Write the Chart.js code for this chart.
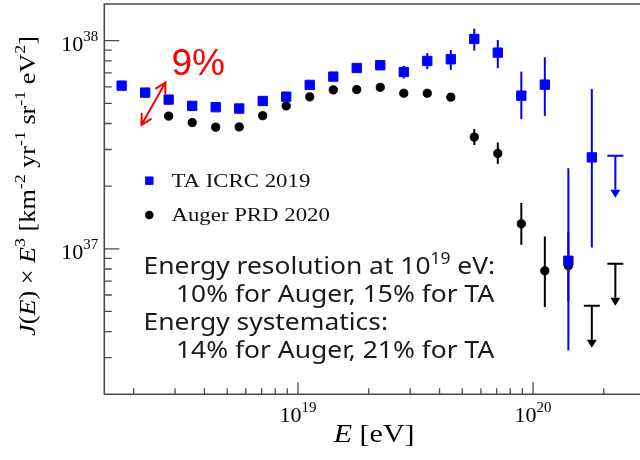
<!DOCTYPE html>
<html>
<head>
<meta charset="utf-8">
<script src="https://cdn.jsdelivr.net/npm/chart.js@4/dist/chart.umd.min.js"></script>
<style>
  html, body { margin: 0; padding: 0; background: #ffffff; }
  canvas { display: block; }
</style>
</head>
<body>
<canvas id="spectrum" width="640" height="460"></canvas>
<script>
// ---- Telescope Array (ICRC 2019): bin energies [eV] and J(E)·E^3 [km^-2 yr^-1 sr^-1 eV^2]
const taEnergy = [1.778e18, 2.239e18, 2.818e18, 3.548e18, 4.467e18, 5.623e18, 7.079e18,
                  8.913e18, 1.122e19, 1.413e19, 1.778e19, 2.239e19, 2.818e19, 3.548e19,
                  4.467e19, 5.623e19, 7.079e19, 8.913e19, 1.122e20, 1.413e20, 1.778e20];
const taFlux   = [6.08e37, 5.63e37, 5.21e37, 4.86e37, 4.79e37, 4.72e37, 5.13e37,
                  5.38e37, 6.13e37, 6.72e37, 7.39e37, 7.62e37, 7.07e37, 7.99e37,
                  8.14e37, 1.019e38, 8.76e37, 5.44e37, 6.15e37, 8.76e36, 2.75e37];
const taLow    = [6.02e37, 5.58e37, 5.16e37, 4.81e37, 4.74e37, 4.66e37, 5.06e37,
                  5.30e37, 6.03e37, 6.59e37, 7.22e37, 7.40e37, 6.58e37, 7.29e37,
                  7.23e37, 8.95e37, 7.38e37, 4.20e37, 4.35e37, 3.25e36, 1.014e37];
const taHigh   = [6.14e37, 5.68e37, 5.26e37, 4.91e37, 4.84e37, 4.78e37, 5.20e37,
                  5.46e37, 6.23e37, 6.85e37, 7.56e37, 7.85e37, 7.57e37, 8.71e37,
                  9.02e37, 1.142e38, 1.008e38, 7.10e37, 8.32e37, 2.44e37, 5.85e37];
const taLimitEnergy = [2.239e20];
const taLimitFlux   = [2.80e37];

// ---- Pierre Auger Observatory (PRD 2020)
const augerEnergy = [2.818e18, 3.548e18, 4.467e18, 5.623e18, 7.079e18, 8.913e18,
                     1.122e19, 1.413e19, 1.778e19, 2.239e19, 2.818e19, 3.548e19,
                     4.467e19, 5.623e19, 7.079e19, 8.913e19, 1.122e20, 1.413e20];
const augerFlux   = [4.34e37, 4.04e37, 3.84e37, 3.85e37, 4.36e37, 4.86e37,
                     5.37e37, 5.80e37, 5.82e37, 5.97e37, 5.59e37, 5.59e37,
                     5.35e37, 3.44e37, 2.87e37, 1.318e37, 7.84e36, 8.29e36];
const augerLow    = [4.31e37, 4.01e37, 3.81e37, 3.82e37, 4.32e37, 4.81e37,
                     5.31e37, 5.72e37, 5.72e37, 5.84e37, 5.44e37, 5.41e37,
                     5.13e37, 3.15e37, 2.56e37, 1.045e37, 5.25e36, 5.60e36];
const augerHigh   = [4.37e37, 4.07e37, 3.87e37, 3.88e37, 4.40e37, 4.91e37,
                     5.43e37, 5.88e37, 5.92e37, 6.10e37, 5.74e37, 5.77e37,
                     5.57e37, 3.76e37, 3.24e37, 1.66e37, 1.146e37, 1.20e37];
const augerLimitEnergy = [1.778e20, 2.239e20];
const augerLimitFlux   = [5.33e36, 8.48e36];

// ---- Axes
const xRange = [1.5e18, 2.85e20];
const yRange = [2e36, 1.5e38];
const xMajorTicks = [1e19, 1e20];
const xMajorExp   = ['19', '20'];
const xMinorTicks = [2e18, 3e18, 4e18, 5e18, 6e18, 7e18, 8e18, 9e18,
                     2e19, 3e19, 4e19, 5e19, 6e19, 7e19, 8e19, 9e19, 2e20];
const yMajorTicks = [1e37, 1e38];
const yMajorExp   = ['37', '38'];
const yMinorTicks = [3e36, 4e36, 5e36, 6e36, 7e36, 8e36, 9e36,
                     2e37, 3e37, 4e37, 5e37, 6e37, 7e37, 8e37, 9e37];

// ---- 9% energy-shift arrow (E, J·E^3 of both ends)
const shiftArrowFrom = [2.16e18, 3.94e37];
const shiftArrowTo   = [2.73e18, 6.29e37];

const TA_BLUE = '#0000ff';
const AXIS = '#4a4a4a';
const SERIF = '"Liberation Serif", "Times New Roman", serif';
const SANS = '"Noto Sans", "Open Sans", sans-serif';

const series = [
  { label: 'TA ICRC 2019', color: TA_BLUE, energy: taEnergy, flux: taFlux, low: taLow, high: taHigh,
    limE: taLimitEnergy, limF: taLimitFlux, style: 'rect' },
  { label: 'Auger PRD 2020', color: '#000000', energy: augerEnergy, flux: augerFlux, low: augerLow, high: augerHigh,
    limE: augerLimitEnergy, limF: augerLimitFlux, style: 'circle' }
];

// Rich text: list of {t, it, sup}; drawn left-to-right with a horizontal stretch
function richWidth(ctx, segs, size, family, supScale) {
  let w = 0;
  for (const s of segs) {
    ctx.font = (s.it ? 'italic ' : '') + (s.sup ? size * supScale : size) + 'px ' + family;
    w += ctx.measureText(s.t).width;
  }
  return w;
}
function drawRich(ctx, segs, x, y, o) {
  const supScale = o.supScale || 0.68, rise = o.rise || o.size * 0.45, sx = o.sx || 1;
  const w = richWidth(ctx, segs, o.size, o.family, supScale);
  ctx.save();
  ctx.translate(x, y);
  if (o.rotate) ctx.rotate(o.rotate);
  ctx.scale(sx, 1);
  let cx = o.align === 'center' ? -w / 2 : o.align === 'right' ? -w : 0;
  ctx.fillStyle = o.color || '#000';
  ctx.textBaseline = 'alphabetic';
  ctx.textAlign = 'left';
  for (const s of segs) {
    const sz = s.sup ? o.size * supScale : o.size;
    ctx.font = (s.it ? 'italic ' : '') + sz + 'px ' + o.family;
    ctx.fillText(s.t, cx, s.sup ? -rise : 0);
    cx += ctx.measureText(s.t).width;
  }
  ctx.restore();
}

// Vertical error bars and upper-limit arrows, drawn just under each dataset's markers
const errorBarPlugin = {
  id: 'errorBars',
  beforeDatasetDraw(chart, args) {
    const s = series[args.index];
    const { ctx, scales: { x, y } } = chart;
    ctx.save();
    ctx.strokeStyle = s.color;
    ctx.fillStyle = s.color;
    ctx.lineWidth = 2;
    s.low.forEach((lo, i) => {
      const px = x.getPixelForValue(s.energy[i]);
      ctx.beginPath();
      ctx.moveTo(px, y.getPixelForValue(lo));
      ctx.lineTo(px, y.getPixelForValue(s.high[i]));
      ctx.stroke();
    });
    s.limE.forEach((e, i) => {
      const px = x.getPixelForValue(e);
      const py = y.getPixelForValue(s.limF[i]);
      const len = 42, head = 8, half = 5, cap = 8;
      ctx.beginPath();
      ctx.moveTo(px - cap, py); ctx.lineTo(px + cap, py);
      ctx.moveTo(px, py); ctx.lineTo(px, py + len - head);
      ctx.stroke();
      ctx.beginPath();
      ctx.moveTo(px - half, py + len - head);
      ctx.lineTo(px + half, py + len - head);
      ctx.lineTo(px, py + len);
      ctx.closePath();
      ctx.fill();
    });
    ctx.restore();
  }
};

// Frame, inward tick marks and the 10^n labels
const framePlugin = {
  id: 'frame',
  beforeDatasetsDraw(chart) {
    const { ctx, chartArea: a, scales: { x, y } } = chart;
    ctx.save();
    ctx.strokeStyle = AXIS;
    ctx.lineWidth = 1.6;
    ctx.beginPath();
    ctx.moveTo(a.right + 2, a.top); ctx.lineTo(a.left, a.top);
    ctx.lineTo(a.left, a.bottom); ctx.lineTo(a.right + 2, a.bottom);
    ctx.stroke();
    ctx.lineWidth = 1.3;
    ctx.beginPath();
    xMajorTicks.forEach(v => { const p = x.getPixelForValue(v); ctx.moveTo(p, a.bottom); ctx.lineTo(p, a.bottom - 12); });
    xMinorTicks.forEach(v => { const p = x.getPixelForValue(v); ctx.moveTo(p, a.bottom); ctx.lineTo(p, a.bottom - 6); });
    yMajorTicks.forEach(v => { const p = y.getPixelForValue(v); ctx.moveTo(a.left, p); ctx.lineTo(a.left + 15, p); });
    yMinorTicks.forEach(v => { const p = y.getPixelForValue(v); ctx.moveTo(a.left, p); ctx.lineTo(a.left + 7.5, p); });
    ctx.stroke();
    ctx.restore();

    const tickFont = { size: 22, family: SERIF, supScale: 0.68, rise: 9.5 };
    xMajorTicks.forEach((v, i) => {
      drawRich(ctx, [{ t: '10' }, { t: xMajorExp[i], sup: true }],
        x.getPixelForValue(v), a.bottom + 27.5, { ...tickFont, align: 'center' });
    });
    yMajorTicks.forEach((v, i) => {
      drawRich(ctx, [{ t: '10' }, { t: yMajorExp[i], sup: true }],
        a.left - 6, y.getPixelForValue(v) + 10, { ...tickFont, align: 'right' });
    });

    // axis titles
    drawRich(ctx, [{ t: 'E', it: true }, { t: ' [eV]' }],
      (a.left + a.right) / 2 + 2, 441.5, { size: 25, family: SERIF, sx: 1.2, align: 'center' });
    drawRich(ctx, [
      { t: 'J', it: true }, { t: '(' }, { t: 'E', it: true }, { t: ') × ' }, { t: 'E', it: true },
      { t: '3', sup: true }, { t: ' [km' }, { t: '-2', sup: true }, { t: ' yr' }, { t: '-1', sup: true },
      { t: ' sr' }, { t: '-1', sup: true }, { t: ' eV' }, { t: '2', sup: true }, { t: ']' }
    ], 35, 186, { size: 23, family: SERIF, sx: 1.14, align: 'center', rotate: -Math.PI / 2, rise: 10 });
  }
};

// Legend, the 9% shift arrow and the resolution / systematics note
const notesPlugin = {
  id: 'notes',
  afterDraw(chart) {
    const { ctx, scales: { x, y } } = chart;
    ctx.save();
    // legend
    const legendRows = [180.7, 215];
    series.forEach((s, i) => {
      const cy = legendRows[i];
      ctx.fillStyle = s.color;
      if (s.style === 'rect') ctx.fillRect(149.3 - 4.2, cy - 4.2, 8.4, 8.4);
      else { ctx.beginPath(); ctx.arc(149.3, cy, 4.3, 0, Math.PI * 2); ctx.fill(); }
      drawRich(ctx, [{ t: s.label }], 171.5, cy + 6.3, { size: 19, family: SERIF, sx: 1.2, color: '#111' });
    });

    // 9% double arrow
    const x0 = x.getPixelForValue(shiftArrowFrom[0]), y0 = y.getPixelForValue(shiftArrowFrom[1]);
    const x1 = x.getPixelForValue(shiftArrowTo[0]), y1 = y.getPixelForValue(shiftArrowTo[1]);
    ctx.strokeStyle = '#ff0000';
    ctx.lineWidth = 2;
    ctx.lineCap = 'round';
    ctx.beginPath();
    ctx.moveTo(x0, y0); ctx.lineTo(x1, y1);
    const ang = Math.atan2(y1 - y0, x1 - x0), hl = 11, ha = 0.5;
    [[x1, y1, ang + Math.PI], [x0, y0, ang]].forEach(([px, py, a]) => {
      ctx.moveTo(px + hl * Math.cos(a - ha), py + hl * Math.sin(a - ha));
      ctx.lineTo(px, py);
      ctx.lineTo(px + hl * Math.cos(a + ha), py + hl * Math.sin(a + ha));
    });
    ctx.stroke();
    ctx.fillStyle = '#ff0000';
    ctx.font = '37px "Liberation Sans", Arial, sans-serif';
    ctx.textBaseline = 'alphabetic';
    ctx.fillText('9%', 171.5, 75);

    // note
    const note = { size: 24, family: SANS, sx: 1.1, color: '#1a1a1a', supScale: 0.66, rise: 10 };
    drawRich(ctx, [{ t: 'Energy resolution at 10' }, { t: '19', sup: true }, { t: ' eV:' }], 143.5, 273.5, note);
    drawRich(ctx, [{ t: '10% for Auger, 15% for TA' }], 176, 302, note);
    drawRich(ctx, [{ t: 'Energy systematics:' }], 143.5, 329.5, note);
    drawRich(ctx, [{ t: '14% for Auger, 21% for TA' }], 176, 358, note);
    ctx.restore();
  }
};

new Chart(document.getElementById('spectrum'), {
  type: 'scatter',
  data: {
    datasets: series.map(s => ({
      label: s.label,
      data: s.energy.map((e, i) => ({ x: e, y: s.flux[i] })),
      pointStyle: s.style,
      pointRadius: s.style === 'rect' ? 6.6 : 4.1,
      pointBackgroundColor: s.color,
      pointBorderColor: s.color,
      pointBorderWidth: 1,
      showLine: false
    }))
  },
  options: {
    responsive: false,
    animation: false,
    events: [],
    layout: { autoPadding: false, padding: { left: 104.3, top: 4, right: 0, bottom: 65.7 } },
    plugins: { legend: { display: false }, tooltip: { enabled: false } },
    scales: {
      x: { type: 'logarithmic', min: xRange[0], max: xRange[1], display: false },
      y: { type: 'logarithmic', min: yRange[0], max: yRange[1], display: false }
    }
  },
  plugins: [framePlugin, errorBarPlugin, notesPlugin]
});
</script>
</body>
</html>
